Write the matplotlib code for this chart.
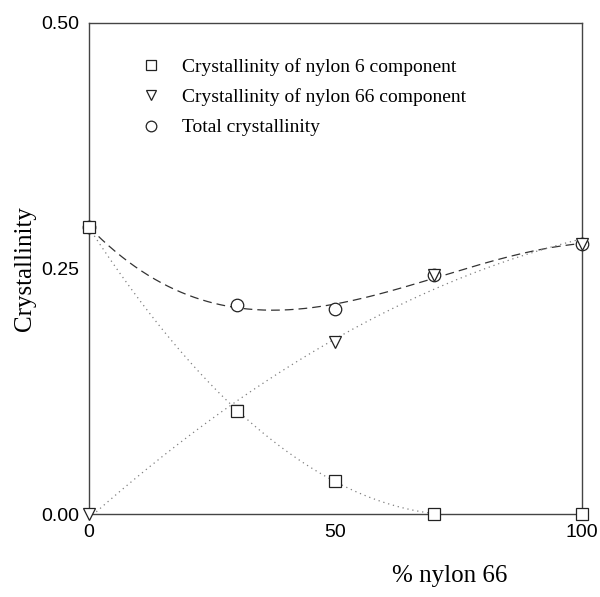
import numpy as np
import matplotlib.pyplot as plt

# % nylon 66 in the blend
nylon66_pct = [0, 30, 50, 70, 100]

# crystallinity
cryst_nylon6 = [0.292, 0.105, 0.034, 0.0, 0.0]
cryst_nylon66 = [0.0, 0.105, 0.175, 0.243, 0.275]
cryst_total = [0.292, 0.213, 0.209, 0.243, 0.275]

legend_labels = [
    "Crystallinity of nylon 6 component",
    "Crystallinity of nylon 66 component",
    "Total crystallinity",
]

serif = ["Liberation Serif", "DejaVu Serif"]
sans = ["Liberation Sans", "DejaVu Sans"]

fig = plt.figure(figsize=(6.0, 5.97), dpi=100)
ax = fig.add_axes([0.148, 0.139, 0.822, 0.8225])

x = np.array(nylon66_pct, dtype=float)

# smooth guide curves fitted through the points
xs = np.linspace(0, 100, 300)
p_tot = np.polyfit(x, cryst_total, 3)
ax.plot(xs, np.polyval(p_tot, xs), color="#333333", lw=0.9,
        dashes=(7, 4), zorder=2)

p66 = np.polyfit(x, cryst_nylon66, 2)
ax.plot(xs, np.polyval(p66, xs), color="#808080", lw=0.9,
        ls=(0, (1, 3)), zorder=2)

p6 = np.polyfit(x[:4], cryst_nylon6[:4], 2)
xs6 = np.linspace(0, 70, 200)
y6 = np.clip(np.polyval(p6, xs6), 0, None)
ax.plot(xs6, y6, color="#808080", lw=0.9, ls=(0, (1, 3)), zorder=2)

mk = dict(ls="none", mfc="white", mec="#222222", mew=0.9, ms=9, zorder=3,
          clip_on=False)
h_tot, = ax.plot(x, cryst_total, marker="o", **mk)
h66, = ax.plot(x, cryst_nylon66, marker="v", **mk)
h6, = ax.plot(x, cryst_nylon6, marker="s", **mk)
h66.set_zorder(4)
h6.set_zorder(4)

ax.set_xlim(0, 100)
ax.set_ylim(0, 0.5)
ax.set_xticks([0, 50, 100])
ax.set_yticks([0, 0.25, 0.5])
ax.set_yticklabels(["0.00", "0.25", "0.50"])
ax.tick_params(length=0, labelsize=14)
ax.tick_params(axis="y", pad=7)
ax.tick_params(axis="x", pad=7)
for lab in ax.get_xticklabels() + ax.get_yticklabels():
    lab.set_family(sans)
for s in ax.spines.values():
    s.set_color("#444444")
    s.set_linewidth(1.0)

ax.set_ylabel("Crystallinity", family=serif, fontsize=18, labelpad=4)
fig.text(0.75, 0.035, "% nylon 66", family=serif, fontsize=18,
         ha="center", va="center")

leg = ax.legend([h6, h66, h_tot], legend_labels, loc="upper left",
                bbox_to_anchor=(0.07, 0.965), frameon=False,
                prop={"family": serif, "size": 14}, handlelength=1.0,
                handletextpad=1.1, labelspacing=0.65, markerscale=0.85)

fig.savefig("out.png", dpi=100)
